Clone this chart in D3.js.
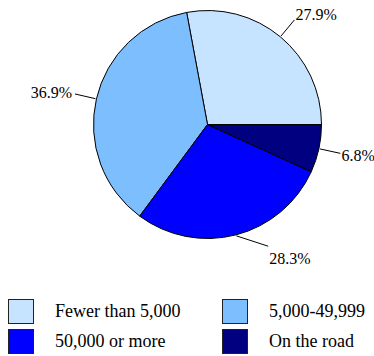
<!DOCTYPE html>
<html><head><meta charset="utf-8">
<script src="https://cdn.jsdelivr.net/npm/d3@7"></script>
</head><body style="margin:0">
<svg id="c" width="374" height="356"></svg>
<script>
const categories = ["Fewer than 5,000", "5,000-49,999", "50,000 or more", "On the road"];
const values = [27.9, 36.9, 28.3, 6.8];
const labels = ["27.9%", "36.9%", "28.3%", "6.8%"];
const colors = ["#c6e3ff", "#7dbeff", "#0000ff", "#000080"];

const svg = d3.select("#c");
const cx = 207.5, cy = 124.5, r = 114;

const pie = d3.pie().sort(null).startAngle(Math.PI / 2).endAngle(Math.PI / 2 - 2 * Math.PI);
const arcs = pie(values);
const arc = d3.arc().innerRadius(0).outerRadius(r);
const color = d3.scaleOrdinal().domain(categories).range(colors);

const g = svg.append("g").attr("transform", `translate(${cx},${cy})`);
g.selectAll("path.slice").data(arcs).enter().append("path")
  .attr("class", "slice")
  .attr("d", arc)
  .attr("fill", (d, i) => color(categories[i]))
  .attr("stroke", "#000").attr("stroke-width", 1).attr("stroke-linejoin", "round");

function pt(a, rad) { return [rad * Math.sin(a), -rad * Math.cos(a)]; }
function norm(a) { a = a % (2 * Math.PI); return a < 0 ? a + 2 * Math.PI : a; }

arcs.forEach((d, i) => {
  const mid = norm((d.startAngle + d.endAngle) / 2);
  let endA = mid;
  const deg = mid * 180 / Math.PI;
  if (deg > 135 && deg < 225) endA = mid + (deg < 180 ? -12 : 12) * Math.PI / 180;
  const p0 = pt(mid, r + 1), p1 = pt(endA, r + 22);
  g.append("line").attr("x1", p0[0]).attr("y1", p0[1]).attr("x2", p1[0]).attr("y2", p1[1])
    .attr("stroke", "#000").attr("stroke-width", 1);
  const c = Math.cos(endA);
  const right = Math.sin(endA) >= 0;
  const off = 5 - (c >= 0 ? 6.5 : 13.8) * c;
  svg.append("text")
    .attr("x", cx + p1[0] + (right ? 1 : -3))
    .attr("y", cy + p1[1] + off)
    .attr("text-anchor", right ? "start" : "end")
    .attr("font-family", "Liberation Serif")
    .style("font-family", `"Liberation Serif"`)
    .style("font-size", "16px")
    .text(labels[i]);
});

// legend
const legX = d3.scaleOrdinal().domain([0, 1]).range([8, 222]);
const legY = d3.scaleOrdinal().domain([0, 1]).range([299, 329]);
categories.forEach((cat, i) => {
  const col = i % 2, row = Math.floor(i / 2);
  svg.append("rect").attr("x", legX(col) + 0.5).attr("y", legY(row) + 0.5)
    .attr("width", 25).attr("height", 24)
    .attr("fill", color(cat)).attr("stroke", "#222").attr("stroke-width", 1);
  svg.append("text").attr("x", legX(col) + 47).attr("y", legY(row) + 18)
    .attr("font-family", "Liberation Serif")
    .style("font-family", `"Liberation Serif"`)
    .style("font-size", "18px")
    .text(cat);
});
</script>
</body></html>
